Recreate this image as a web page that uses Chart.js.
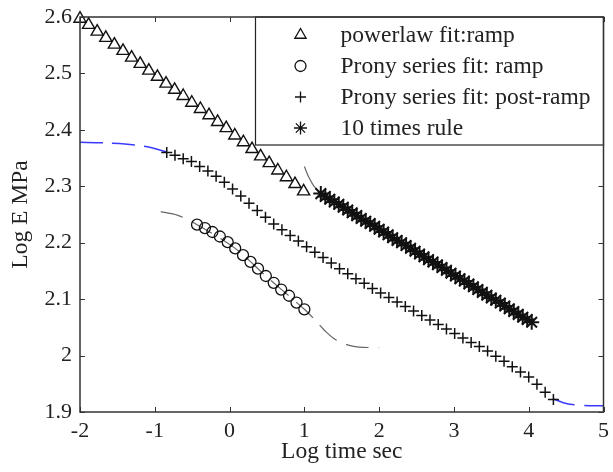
<!DOCTYPE html>
<html>
<head>
<meta charset="utf-8">
<script src="https://cdn.jsdelivr.net/npm/chart.js@4.4.0/dist/chart.umd.min.js"></script>
<style>
  html, body { margin: 0; padding: 0; background: #fff; }
  #wrap { width: 613px; height: 472px; }
</style>
</head>
<body>
<div id="wrap"><canvas id="grafica" width="613" height="472"></canvas></div>
<script>
// ejes
var xTicks = [-2, -1, 0, 1, 2, 3, 4, 5];
var yTicks = [1.9, 2.0, 2.1, 2.2, 2.3, 2.4, 2.5, 2.6];
var legendLabels = ["powerlaw fit:ramp", "Prony series fit: ramp", "Prony series fit: post-ramp", "10 times rule"];

// powerlaw fit: ramp (triangulos)
var triX = [-2.00, -1.885, -1.77, -1.655, -1.54, -1.425, -1.31, -1.195, -1.08, -0.965, -0.85, -0.735, -0.62, -0.505,
            -0.39, -0.275, -0.16, -0.045, 0.07, 0.185, 0.30, 0.415, 0.53, 0.645, 0.76, 0.875, 0.99];
var triY = [2.597, 2.586, 2.574, 2.563, 2.551, 2.540, 2.528, 2.517, 2.505, 2.494, 2.482, 2.471, 2.460, 2.448,
            2.437, 2.426, 2.414, 2.403, 2.390, 2.378, 2.366, 2.353, 2.341, 2.328, 2.316, 2.304, 2.291];

// Prony series fit: ramp (circulos) y su curva
var circX = [-0.435, -0.33, -0.23, -0.13, -0.025, 0.075, 0.18, 0.28, 0.38, 0.485, 0.59, 0.69, 0.795, 0.895, 1.0];
var circY = [2.232, 2.226, 2.219, 2.211, 2.201, 2.190, 2.178, 2.166, 2.154, 2.141, 2.129, 2.117, 2.106, 2.094, 2.082];
var circLineX = [-0.92, -0.7, -0.435, 0.075, 0.485, 1.0, 1.15, 1.29, 1.42, 1.6, 1.73, 2.0];
var circLineY = [2.255, 2.249, 2.232, 2.190, 2.141, 2.082, 2.062, 2.042, 2.028, 2.018, 2.015, 2.014];

// Prony series fit: post-ramp (cruces) y su curva azul
var plusX = [-0.84, -0.73, -0.62, -0.51, -0.40, -0.29, -0.18, -0.07, 0.04, 0.15, 0.26, 0.37, 0.48, 0.59, 0.70, 0.81,
             0.92, 1.03, 1.14, 1.25, 1.36, 1.47, 1.58, 1.69, 1.80, 1.91, 2.02, 2.13, 2.24, 2.35, 2.46, 2.57,
             2.68, 2.79, 2.90, 3.01, 3.12, 3.23, 3.34, 3.45, 3.56, 3.67, 3.78, 3.89, 4.00, 4.11, 4.22, 4.33];
var plusY = [2.360, 2.355, 2.349, 2.344, 2.335, 2.327, 2.318, 2.307, 2.295, 2.283, 2.270, 2.257, 2.245, 2.233, 2.223, 2.213,
             2.203, 2.193, 2.183, 2.174, 2.164, 2.154, 2.145, 2.136, 2.128, 2.119, 2.111, 2.103, 2.095, 2.087, 2.079, 2.071,
             2.063, 2.055, 2.047, 2.039, 2.031, 2.023, 2.016, 2.008, 1.999, 1.990, 1.980, 1.971, 1.962, 1.949, 1.935, 1.922];
var blueLeftX = [-2.0, -1.7, -1.4, -1.1, -0.84];
var blueLeftY = [2.378, 2.377, 2.375, 2.370, 2.361];
var blueRightX = [4.33, 4.5, 4.7, 5.0];
var blueRightY = [1.923, 1.915, 1.912, 1.911];

// 10 times rule (asteriscos) y su curva
var starX = [1.22, 1.28, 1.34, 1.40, 1.46, 1.52, 1.58, 1.64, 1.70, 1.76, 1.82, 1.88, 1.94, 2.00, 2.06, 2.12,
             2.18, 2.24, 2.30, 2.36, 2.42, 2.48, 2.54, 2.60, 2.66, 2.72, 2.78, 2.84, 2.90, 2.96, 3.02, 3.08,
             3.14, 3.20, 3.26, 3.32, 3.38, 3.44, 3.50, 3.56, 3.62, 3.68, 3.74, 3.80, 3.86, 3.92, 3.98, 4.04];
var starY = [2.287, 2.282, 2.277, 2.272, 2.268, 2.263, 2.258, 2.253, 2.248, 2.243, 2.238, 2.234, 2.229, 2.224, 2.219, 2.214,
             2.209, 2.204, 2.200, 2.195, 2.190, 2.185, 2.180, 2.175, 2.170, 2.166, 2.161, 2.156, 2.151, 2.146, 2.141, 2.136,
             2.132, 2.127, 2.122, 2.117, 2.112, 2.107, 2.102, 2.098, 2.093, 2.088, 2.083, 2.078, 2.073, 2.068, 2.064, 2.059];
var starLineX = [1.0, 1.06, 1.13, 1.22];
var starLineY = [2.335, 2.316, 2.300, 2.287];

function zip(xs, ys) {
    return xs.map(function (x, i) { return { x: x, y: ys[i] }; });
}

var fuente = "'Liberation Serif', 'Times New Roman', serif";
var negro = "#111";
var gris = "#666";
var azul = "#3a3aff";

// Caja, marcas hacia dentro y leyenda
var cajaPlugin = {
    id: "cajaPlugin",
    afterDatasetsDraw: function (chart) {
        var ctx = chart.ctx, a = chart.chartArea;
        var xs = chart.scales.x, ys = chart.scales.y;
        ctx.save();
        ctx.strokeStyle = "#333";
        ctx.lineWidth = 1;
        xs.ticks.forEach(function (t) {
            var px = Math.round(xs.getPixelForValue(t.value)) + 0.5;
            ctx.beginPath();
            ctx.moveTo(px, a.bottom); ctx.lineTo(px, a.bottom - 5);
            ctx.moveTo(px, a.top); ctx.lineTo(px, a.top + 5);
            ctx.stroke();
        });
        ys.ticks.forEach(function (t) {
            var py = Math.round(ys.getPixelForValue(t.value)) + 0.5;
            ctx.beginPath();
            ctx.moveTo(a.left, py); ctx.lineTo(a.left + 5, py);
            ctx.moveTo(a.right, py); ctx.lineTo(a.right - 5, py);
            ctx.stroke();
        });

        // leyenda
        var lw = 348, lh = 128;
        var lx = a.right - lw, ly = a.top;
        ctx.fillStyle = "#fff";
        ctx.fillRect(lx, ly, lw, lh);
        ctx.strokeStyle = "#222";
        ctx.lineWidth = 1.2;
        ctx.strokeRect(lx, ly, lw, lh);
        ctx.font = "23.5px " + fuente;
        ctx.textBaseline = "middle";
        ctx.textAlign = "left";
        legendLabels.forEach(function (txt, i) {
            var ds = chart.data.datasets[i];
            var cy = ly + 18 + i * 31;
            ctx.strokeStyle = negro;
            ctx.fillStyle = "rgba(0,0,0,0)";
            ctx.lineWidth = 1.3;
            Chart.helpers.drawPoint(ctx, {
                pointStyle: ds.pointStyle, radius: Math.min(ds.pointRadius, 6.5), rotation: 0,
                borderWidth: 1.3
            }, lx + 45, cy);
            ctx.fillStyle = "#222";
            ctx.fillText(txt, lx + 85, cy + 1);
        });

        // marco
        ctx.strokeStyle = "#333";
        ctx.lineWidth = 1.5;
        ctx.strokeRect(a.left, a.top, a.right - a.left, a.bottom - a.top);
        ctx.restore();
    }
};

var ctx = document.getElementById("grafica").getContext("2d");
var chart = new Chart(ctx, {
    type: "scatter",
    data: {
        datasets: [{
            label: legendLabels[0],
            data: zip(triX, triY),
            pointStyle: "triangle",
            pointRadius: 7,
            pointBorderWidth: 1.4,
            borderColor: negro,
            backgroundColor: "rgba(0,0,0,0)",
            showLine: false,
            clip: false
        }, {
            label: legendLabels[1],
            data: zip(circX, circY),
            pointStyle: "circle",
            pointRadius: 5.5,
            pointBorderWidth: 1.3,
            borderColor: negro,
            backgroundColor: "rgba(0,0,0,0)",
            showLine: false
        }, {
            label: legendLabels[2],
            data: zip(plusX, plusY),
            pointStyle: "cross",
            pointRadius: 5.5,
            pointBorderWidth: 1.5,
            borderColor: negro,
            showLine: false
        }, {
            label: legendLabels[3],
            data: zip(starX, starY),
            pointStyle: "star",
            pointRadius: 7.5,
            pointBorderWidth: 2,
            borderColor: negro,
            showLine: false
        }, {
            data: zip(circLineX, circLineY),
            showLine: true,
            pointRadius: 0,
            borderColor: gris,
            borderWidth: 1.2,
            borderDash: [23, 10],
            tension: 0.3
        }, {
            data: zip(starLineX, starLineY),
            showLine: true,
            pointRadius: 0,
            borderColor: gris,
            borderWidth: 1.2,
            tension: 0.3
        }, {
            data: zip(blueLeftX, blueLeftY),
            showLine: true,
            pointRadius: 0,
            borderColor: azul,
            borderWidth: 1.5,
            borderDash: [23, 9],
            tension: 0.3
        }, {
            data: zip(blueRightX, blueRightY),
            showLine: true,
            pointRadius: 0,
            borderColor: azul,
            borderWidth: 1.5,
            borderDash: [22, 10],
            tension: 0.3
        }]
    },
    options: {
        responsive: false,
        animation: false,
        devicePixelRatio: 1,
        layout: { padding: { top: 17, right: 7, left: 0, bottom: 0 } },
        plugins: {
            legend: { display: false },
            tooltip: { enabled: false }
        },
        scales: {
            x: {
                type: "linear",
                min: -2,
                max: 5,
                afterBuildTicks: function (s) { s.ticks = xTicks.map(function (v) { return { value: v }; }); },
                afterFit: function (s) { s.height = 60; s.paddingLeft = 0; s.paddingRight = 0; },
                grid: { display: false, drawTicks: false },
                border: { display: false },
                ticks: {
                    padding: 6,
                    color: "#222",
                    font: { family: fuente, size: 22 },
                    callback: function (v) { return String(Number(v.toFixed(1))); }
                },
                title: {
                    display: true,
                    text: "Log time sec",
                    color: "#222",
                    font: { family: fuente, size: 23.5 },
                    padding: { top: 0, bottom: 6 }
                }
            },
            y: {
                type: "linear",
                min: 1.9,
                max: 2.6,
                afterBuildTicks: function (s) { s.ticks = yTicks.map(function (v) { return { value: v }; }); },
                afterFit: function (s) { s.width = 80; s.paddingTop = 0; s.paddingBottom = 0; },
                grid: { display: false, drawTicks: false },
                border: { display: false },
                ticks: {
                    padding: 8,
                    color: "#222",
                    font: { family: fuente, size: 22 },
                    callback: function (v) { return String(Number(v.toFixed(1))); }
                },
                title: {
                    display: true,
                    text: "Log E MPa",
                    color: "#222",
                    font: { family: fuente, size: 23.5 },
                    padding: { top: 7, bottom: 0 }
                }
            }
        }
    },
    plugins: [cajaPlugin]
});
</script>
</body>
</html>
